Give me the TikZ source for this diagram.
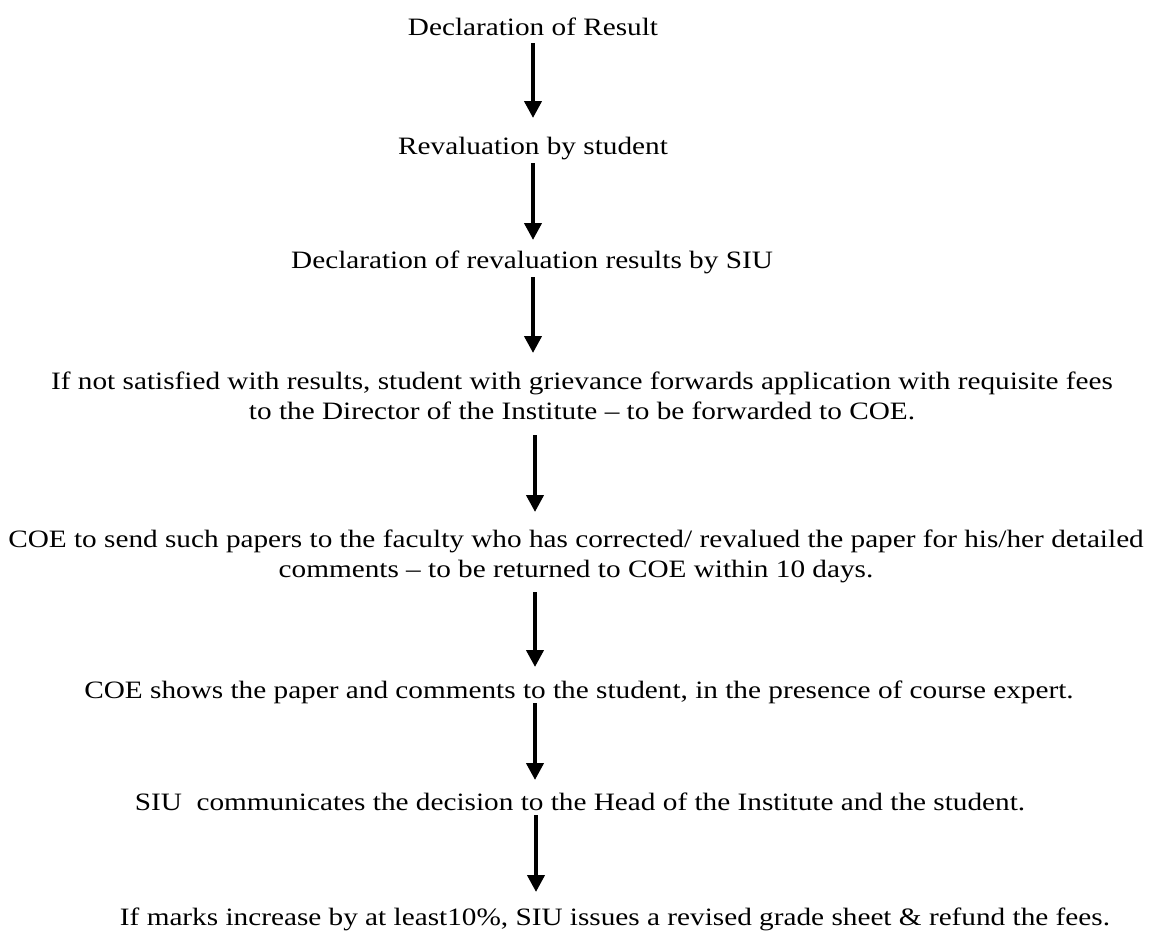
\documentclass[tikz,border=0pt]{standalone}
\usepackage{fontspec}
\setmainfont{Liberation Serif}[FakeStretch=1.17]
\usetikzlibrary{arrows.meta}
\begin{document}
\begin{tikzpicture}[x=1pt,y=-1pt,
  lbl/.style={inner sep=0pt,font=\fontsize{25}{30}\selectfont,align=center},
  arr/.style={line width=4pt,-{Triangle[width=17pt,length=17pt]}}]
\useasboundingbox (0,0) rectangle (1149,930);
\node[lbl,anchor=base] (t1) at (533,35) {Declaration of Result};
\node[lbl,anchor=base] (t2) at (533,154) {Revaluation by student};
\node[lbl,anchor=base] (t3) at (532,268) {Declaration of revaluation results by SIU};
\node[lbl] (t4) at (582,396) {If not satisfied with results, student with grievance forwards application with requisite fees\\to the Director of the Institute -- to be forwarded to COE.};
\node[lbl] (t5) at (576,556) {COE to send such papers to the faculty who has corrected/ revalued the paper for his/her detailed\\comments -- to be returned to COE within 10 days.};
\node[lbl,anchor=base] (t6) at (579,698) {COE shows the paper and comments to the student, in the presence of course expert.};
\node[lbl,anchor=base] (t7) at (580,810) {SIU\ \ communicates the decision to the Head of the Institute and the student.};
\node[lbl,anchor=base] (t8) at (615,925) {If marks increase by at least10\%, SIU issues a revised grade sheet \& refund the fees.};
\coordinate (a1s) at (533,43);  \coordinate (a1e) at (533,118);
\coordinate (a2s) at (533,163); \coordinate (a2e) at (533,240);
\coordinate (a3s) at (533,277); \coordinate (a3e) at (533,353);
\coordinate (a4s) at (535,435); \coordinate (a4e) at (535,512);
\coordinate (a5s) at (535,592); \coordinate (a5e) at (535,667);
\coordinate (a6s) at (535,703); \coordinate (a6e) at (535,780);
\coordinate (a7s) at (536,815); \coordinate (a7e) at (536,892);
\draw[arr] (a1s) -- (a1e);
\draw[arr] (a2s) -- (a2e);
\draw[arr] (a3s) -- (a3e);
\draw[arr] (a4s) -- (a4e);
\draw[arr] (a5s) -- (a5e);
\draw[arr] (a6s) -- (a6e);
\draw[arr] (a7s) -- (a7e);
\end{tikzpicture}
\end{document}
